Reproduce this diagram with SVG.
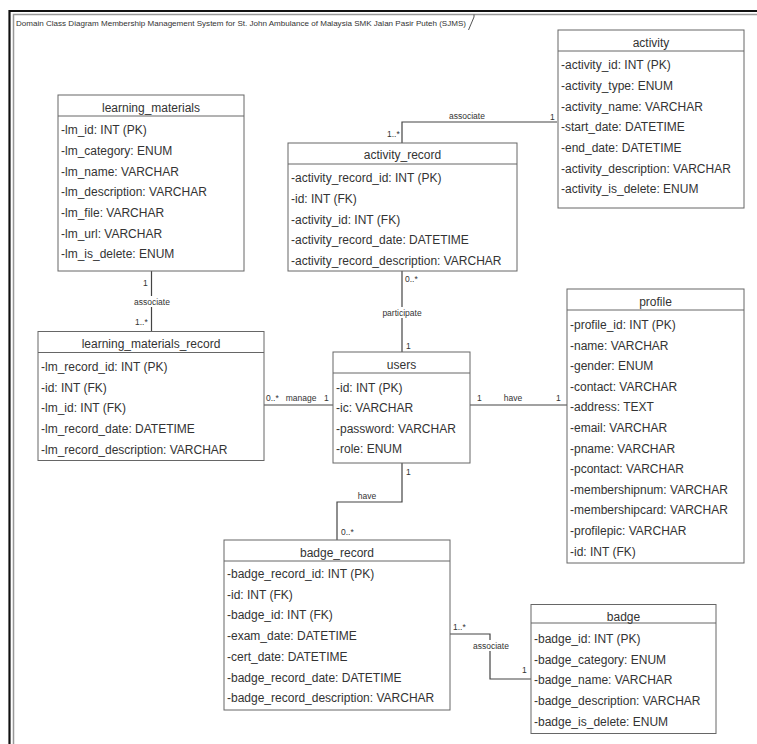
<svg xmlns="http://www.w3.org/2000/svg" width="757" height="744" viewBox="0 0 757 744">
<style>
  .box{fill:#fff;stroke:#666;stroke-width:1}
  .sep{stroke:#666;stroke-width:1}
  .hd{font-family:"Liberation Sans",Arial,sans-serif;font-size:12px;fill:#333;text-anchor:middle}
  .at{font-family:"Liberation Sans",Arial,sans-serif;font-size:12px;fill:#333}
  .cn{fill:none;stroke:#444;stroke-width:1.2}
  .lb{font-family:"Liberation Sans",Arial,sans-serif;font-size:8.5px;fill:#333}
  .lbm{font-family:"Liberation Sans",Arial,sans-serif;font-size:8.5px;fill:#333;text-anchor:middle}
  .lbg{fill:#fff}
  .ttl{font-family:"Liberation Sans",Arial,sans-serif;font-size:7.5px;fill:#333}
</style>
<rect width="757" height="744" fill="#fff"/>
<g id="frame">
  <path d="M9.5,744 V11 H757" fill="none" stroke="#111" stroke-width="2.2"/>
  <path d="M13.5,744 V14.5 H757" fill="none" stroke="#999" stroke-width="1.5"/>
  <path d="M474,14.5 V17 L468.5,30" fill="none" stroke="#555" stroke-width="1"/>
  <text class="ttl" x="16" y="26" textLength="450" lengthAdjust="spacingAndGlyphs">Domain Class Diagram Membership Management System for St. John Ambulance of Malaysia SMK Jalan Pasir Puteh (SJMS)</text>
</g>
<g id="connectors">
  <path class="cn" d="M557,122 H402 V143"/>
  <path class="cn" d="M151.5,271 V331.5"/>
  <path class="cn" d="M264,405 H333"/>
  <path class="cn" d="M402,271 V352"/>
  <path class="cn" d="M470,405 H567"/>
  <path class="cn" d="M402,463 V502 H337 V540"/>
  <path class="cn" d="M450,634 H490 V679 H531"/>
  <!-- labels -->
  <text class="lbm" x="467" y="119">associate</text>
  <text class="lb" x="387" y="137">1..*</text>
  <text class="lb" x="550" y="120">1</text>
  <text class="lb" x="143" y="286">1</text>
  <rect class="lbg" x="134" y="296" width="37" height="11"/>
  <text class="lbm" x="152" y="305">associate</text>
  <text class="lb" x="135" y="325">1..*</text>
  <text class="lb" x="266" y="401">0..*</text>
  <text class="lbm" x="301" y="401">manage</text>
  <text class="lb" x="324" y="401">1</text>
  <text class="lb" x="405" y="282">0..*</text>
  <rect class="lbg" x="381" y="307" width="43" height="11"/>
  <text class="lbm" x="402" y="316">participate</text>
  <text class="lb" x="406" y="349">1</text>
  <text class="lb" x="477" y="401">1</text>
  <text class="lbm" x="513" y="401">have</text>
  <text class="lb" x="556" y="401">1</text>
  <text class="lb" x="406" y="475">1</text>
  <text class="lbm" x="367" y="499">have</text>
  <text class="lb" x="341" y="535">0..*</text>
  <text class="lb" x="453" y="630">1..*</text>
  <rect class="lbg" x="472" y="640" width="37" height="11"/>
  <text class="lbm" x="491" y="649">associate</text>
  <text class="lb" x="522" y="673">1</text>
</g>
<g id="learning_materials">
  <rect class="box" x="58" y="95" width="186" height="176"/>
  <line class="sep" x1="58" y1="116" x2="244" y2="116"/>
  <text class="hd" x="151" y="112">learning_materials</text>
  <text class="at" x="61" y="134">-lm_id: INT (PK)</text>
  <text class="at" x="61" y="155">-lm_category: ENUM</text>
  <text class="at" x="61" y="175.5">-lm_name: VARCHAR</text>
  <text class="at" x="61" y="196">-lm_description: VARCHAR</text>
  <text class="at" x="61" y="217">-lm_file: VARCHAR</text>
  <text class="at" x="61" y="237.5">-lm_url: VARCHAR</text>
  <text class="at" x="61" y="258">-lm_is_delete: ENUM</text>
</g>
<g id="activity_record">
  <rect class="box" x="288" y="143" width="229" height="128"/>
  <line class="sep" x1="288" y1="164" x2="517" y2="164"/>
  <text class="hd" x="402.5" y="159">activity_record</text>
  <text class="at" x="291" y="182">-activity_record_id: INT (PK)</text>
  <text class="at" x="291" y="203">-id: INT (FK)</text>
  <text class="at" x="291" y="223.5">-activity_id: INT (FK)</text>
  <text class="at" x="291" y="244">-activity_record_date: DATETIME</text>
  <text class="at" x="291" y="265">-activity_record_description: VARCHAR</text>
</g>
<g id="activity">
  <rect class="box" x="558" y="30" width="186" height="178"/>
  <line class="sep" x1="558" y1="51" x2="744" y2="51"/>
  <text class="hd" x="651" y="47">activity</text>
  <text class="at" x="561" y="69">-activity_id: INT (PK)</text>
  <text class="at" x="561" y="90">-activity_type: ENUM</text>
  <text class="at" x="561" y="110.5">-activity_name: VARCHAR</text>
  <text class="at" x="561" y="131">-start_date: DATETIME</text>
  <text class="at" x="561" y="152">-end_date: DATETIME</text>
  <text class="at" x="561" y="172.5">-activity_description: VARCHAR</text>
  <text class="at" x="561" y="193">-activity_is_delete: ENUM</text>
</g>
<g id="learning_materials_record">
  <rect class="box" x="38" y="331.5" width="226" height="129"/>
  <line class="sep" x1="38" y1="352.5" x2="264" y2="352.5"/>
  <text class="hd" x="151" y="348">learning_materials_record</text>
  <text class="at" x="41" y="371">-lm_record_id: INT (PK)</text>
  <text class="at" x="41" y="391.5">-id: INT (FK)</text>
  <text class="at" x="41" y="412">-lm_id: INT (FK)</text>
  <text class="at" x="41" y="433">-lm_record_date: DATETIME</text>
  <text class="at" x="41" y="453.5">-lm_record_description: VARCHAR</text>
</g>
<g id="users">
  <rect class="box" x="333" y="352" width="137" height="111"/>
  <line class="sep" x1="333" y1="373" x2="470" y2="373"/>
  <text class="hd" x="401.5" y="369">users</text>
  <text class="at" x="336" y="391.5">-id: INT (PK)</text>
  <text class="at" x="336" y="412">-ic: VARCHAR</text>
  <text class="at" x="336" y="432.5">-password: VARCHAR</text>
  <text class="at" x="336" y="453">-role: ENUM</text>
</g>
<g id="profile">
  <rect class="box" x="567" y="289" width="177" height="274"/>
  <line class="sep" x1="567" y1="310" x2="744" y2="310"/>
  <text class="hd" x="655.5" y="305.5">profile</text>
  <text class="at" x="570" y="329">-profile_id: INT (PK)</text>
  <text class="at" x="570" y="349.6">-name: VARCHAR</text>
  <text class="at" x="570" y="370.2">-gender: ENUM</text>
  <text class="at" x="570" y="390.8">-contact: VARCHAR</text>
  <text class="at" x="570" y="411.4">-address: TEXT</text>
  <text class="at" x="570" y="432">-email: VARCHAR</text>
  <text class="at" x="570" y="452.6">-pname: VARCHAR</text>
  <text class="at" x="570" y="473.2">-pcontact: VARCHAR</text>
  <text class="at" x="570" y="493.8">-membershipnum: VARCHAR</text>
  <text class="at" x="570" y="514.4">-membershipcard: VARCHAR</text>
  <text class="at" x="570" y="535">-profilepic: VARCHAR</text>
  <text class="at" x="570" y="555.6">-id: INT (FK)</text>
</g>
<g id="badge_record">
  <rect class="box" x="224" y="540" width="226" height="170"/>
  <line class="sep" x1="224" y1="561" x2="450" y2="561"/>
  <text class="hd" x="337" y="557">badge_record</text>
  <text class="at" x="227" y="578">-badge_record_id: INT (PK)</text>
  <text class="at" x="227" y="598.7">-id: INT (FK)</text>
  <text class="at" x="227" y="619.4">-badge_id: INT (FK)</text>
  <text class="at" x="227" y="640.1">-exam_date: DATETIME</text>
  <text class="at" x="227" y="660.8">-cert_date: DATETIME</text>
  <text class="at" x="227" y="681.5">-badge_record_date: DATETIME</text>
  <text class="at" x="227" y="702.2">-badge_record_description: VARCHAR</text>
</g>
<g id="badge">
  <rect class="box" x="531" y="604.5" width="185" height="129"/>
  <line class="sep" x1="531" y1="623" x2="716" y2="623"/>
  <text class="hd" x="623.5" y="620.5">badge</text>
  <text class="at" x="534" y="643">-badge_id: INT (PK)</text>
  <text class="at" x="534" y="663.7">-badge_category: ENUM</text>
  <text class="at" x="534" y="684.4">-badge_name: VARCHAR</text>
  <text class="at" x="534" y="705.1">-badge_description: VARCHAR</text>
  <text class="at" x="534" y="725.8">-badge_is_delete: ENUM</text>
</g>
</svg>
